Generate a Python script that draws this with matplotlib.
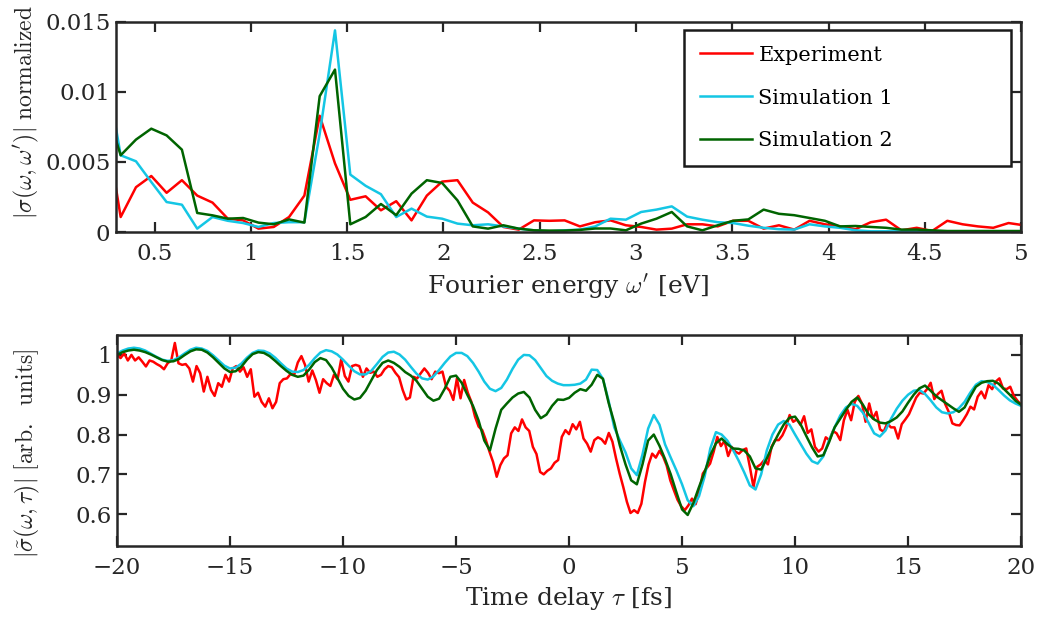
import numpy as np
import matplotlib
matplotlib.use('Agg')
import matplotlib.pyplot as plt

# ---- top panel: Fourier spectra (grid step ~0.0795 eV, first point just left of 0.3)
energy = 0.2445 + 0.0795 * np.arange(61)

spec_exp = [0.0078, 0.00107, 0.0032, 0.0040, 0.0028, 0.0037, 0.0026, 0.0021, 0.00095, 0.00083,
            0.00024, 0.00036, 0.00107, 0.0026, 0.0083, 0.0049, 0.0023, 0.00255, 0.00155, 0.0022,
            0.00083, 0.0026, 0.0036, 0.0037, 0.0021, 0.0014, 0.00036, 0.00017, 0.00083, 0.0008,
            0.00083, 0.0004, 0.0007, 0.00083, 0.00048, 0.00036, 0.00017, 0.00024, 0.00055, 0.00055,
            0.0004, 0.0008, 0.0008, 0.00024, 0.00048, 0.00017, 0.0008, 0.00055, 0.0004, 0.0002,
            0.0007, 0.00088, 0.00012, 0.0003, 0.00007, 0.0008, 0.00055, 0.0004, 0.0003, 0.00064,
            0.00048]
spec_sim1 = [0.0118, 0.00548, 0.00505, 0.00357, 0.00214, 0.00195, 0.00024, 0.00107, 0.0008, 0.00064,
             0.00036, 0.00064, 0.0007, 0.0007, 0.0070, 0.0144, 0.0041, 0.0033, 0.0027, 0.00107,
             0.00167, 0.0011, 0.00095, 0.0006, 0.00048, 0.00055, 0.0004, 0.00024, 0.00012, 0.00005,
             0.00012, 0.00017, 0.0004, 0.00095, 0.00088, 0.00143, 0.0016, 0.00183, 0.0011, 0.00088,
             0.0007, 0.00064, 0.00045, 0.0003, 0.0002, 0.00017, 0.00055, 0.0004, 0.0003, 0.00012,
             0.00005, 0.00005, 0.00005, 0.00005, 0.00005, 0.00005, 0.00005, 0.00005, 0.00005, 0.00005,
             0.00005]
spec_sim2 = [0.0090, 0.00548, 0.0066, 0.00738, 0.0069, 0.00588, 0.00136, 0.00119, 0.00095, 0.0010,
             0.00067, 0.00055, 0.0009, 0.00067, 0.0097, 0.0116, 0.00055, 0.00107, 0.0020, 0.0012,
             0.00274, 0.0037, 0.0035, 0.00226, 0.0004, 0.00024, 0.00048, 0.00024, 0.00012, 0.0001,
             0.0001, 0.00015, 0.00025, 0.00025, 0.00012, 0.0006, 0.00095, 0.00143, 0.0004, 0.00012,
             0.00048, 0.0008, 0.0009, 0.0016, 0.0013, 0.0012, 0.0010, 0.0008, 0.0004, 0.00043,
             0.00036, 0.0003, 0.00017, 0.00017, 0.00012, 0.00007, 0.00007, 0.00007, 0.00007, 0.00007,
             0.00007]

# ---- bottom panel: time traces
t_sim = np.linspace(-20, 20, 161)
trace_sim1 = [
    1.004, 1.011, 1.016, 1.018,  # -20
    1.016, 1.011, 1.003, 0.995,  # -19
    0.988, 0.985, 0.987, 0.994,  # -18
    1.004, 1.013, 1.018, 1.016,  # -17
    1.010, 0.999, 0.986, 0.973,  # -16
    0.966, 0.968, 0.978, 0.993,  # -15
    1.005, 1.011, 1.010, 1.004,  # -14
    0.993, 0.979, 0.966, 0.958,  # -13
    0.957, 0.962, 0.975, 0.992,  # -12
    1.006, 1.012, 1.009, 1.001,  # -11
    0.988, 0.973, 0.959, 0.951,  # -10
    0.951, 0.960, 0.977, 0.995,  # -9
    1.006, 1.008, 1.001, 0.988,  # -8
    0.970, 0.953, 0.941, 0.938,  # -7
    0.946, 0.962, 0.980, 0.996,  # -6
    1.005, 1.005, 0.997, 0.980,  # -5
    0.958, 0.933, 0.915, 0.909,  # -4
    0.917, 0.938, 0.965, 0.988,  # -3
    1.000, 0.999, 0.987, 0.967,  # -2
    0.947, 0.935, 0.928, 0.924,  # -1
    0.924, 0.925, 0.928, 0.938,  # 0
    0.963, 0.962, 0.940, 0.885,  # 1
    0.818, 0.785, 0.755, 0.715,  # 2
    0.698, 0.750, 0.815, 0.849,  # 3
    0.825, 0.775, 0.742, 0.710,  # 4
    0.675, 0.635, 0.620, 0.645,  # 5
    0.695, 0.765, 0.806, 0.800,  # 6
    0.785, 0.762, 0.735, 0.705,  # 7
    0.672, 0.662, 0.700, 0.760,  # 8
    0.800, 0.825, 0.834, 0.825,  # 9
    0.800, 0.776, 0.752, 0.733,  # 10
    0.727, 0.745, 0.785, 0.818,  # 11
    0.848, 0.868, 0.877, 0.872,  # 12
    0.855, 0.830, 0.803, 0.795,  # 13
    0.810, 0.840, 0.865, 0.885,  # 14
    0.900, 0.910, 0.912, 0.902,  # 15
    0.886, 0.868, 0.856, 0.853,  # 16
    0.856, 0.866, 0.882, 0.905,  # 17
    0.925, 0.934, 0.932, 0.925,  # 18
    0.912, 0.898, 0.886, 0.878,  # 19
    0.872]
trace_sim2 = [
    1.000, 1.007, 1.011, 1.013,  # -20
    1.011, 1.007, 1.001, 0.994,  # -19
    0.987, 0.983, 0.984, 0.990,  # -18
    1.000, 1.009, 1.014, 1.013,  # -17
    1.006, 0.994, 0.980, 0.966,  # -16
    0.957, 0.959, 0.970, 0.988,  # -15
    1.002, 1.007, 1.005, 0.997,  # -14
    0.985, 0.972, 0.960, 0.950,  # -13
    0.945, 0.948, 0.963, 0.982,  # -12
    0.992, 0.987, 0.968, 0.942,  # -11
    0.915, 0.897, 0.888, 0.892,  # -10
    0.910, 0.936, 0.962, 0.980,  # -9
    0.986, 0.980, 0.970, 0.957,  # -8
    0.948, 0.935, 0.915, 0.895,  # -7
    0.885, 0.890, 0.915, 0.945,  # -6
    0.948, 0.930, 0.900, 0.872,  # -5
    0.835, 0.785, 0.760, 0.815,  # -4
    0.862, 0.878, 0.893, 0.903,  # -3
    0.907, 0.893, 0.862, 0.841,  # -2
    0.850, 0.872, 0.888, 0.887,  # -1
    0.892, 0.905, 0.914, 0.910,  # 0
    0.925, 0.950, 0.940, 0.880,  # 1
    0.830, 0.772, 0.725, 0.685,  # 2
    0.675, 0.725, 0.785, 0.800,  # 3
    0.772, 0.738, 0.700, 0.655,  # 4
    0.612, 0.598, 0.628, 0.668,  # 5
    0.706, 0.748, 0.778, 0.790,  # 6
    0.776, 0.765, 0.764, 0.760,  # 7
    0.745, 0.715, 0.712, 0.740,  # 8
    0.772, 0.800, 0.825, 0.842,  # 9
    0.845, 0.825, 0.796, 0.768,  # 10
    0.745, 0.748, 0.780, 0.818,  # 11
    0.840, 0.862, 0.882, 0.893,  # 12
    0.875, 0.851, 0.838, 0.830,  # 13
    0.828, 0.834, 0.843, 0.858,  # 14
    0.880, 0.900, 0.916, 0.923,  # 15
    0.910, 0.896, 0.886, 0.876,  # 16
    0.866, 0.857, 0.868, 0.895,  # 17
    0.920, 0.930, 0.934, 0.935,  # 18
    0.928, 0.914, 0.900, 0.885,  # 19
    0.875]

t_exp = np.linspace(-20, 20, 251)
trace_exp = [
    1.000, 0.992, 1.004, 0.986, 1.000, 0.986, 0.994, 0.983, 0.971, 0.986,
    0.983, 0.977, 0.972, 0.964, 0.979, 0.986, 1.030, 0.979, 0.975, 0.977,
    0.966, 0.933, 0.972, 0.954, 0.908, 0.945, 0.912, 0.897, 0.929, 0.920,
    0.950, 0.933, 0.966, 0.972, 0.958, 0.969, 0.945, 0.964, 0.895, 0.905,
    0.882, 0.870, 0.891, 0.866, 0.882, 0.929, 0.939, 0.941, 0.952, 0.950,
    0.981, 0.997, 0.975, 0.933, 0.961, 0.937, 0.905, 0.939, 0.929, 0.922,
    0.950, 0.939, 0.989, 0.947, 0.933, 0.972, 0.975, 0.972, 0.945, 0.966,
    0.955, 0.958, 0.945, 0.950, 0.964, 0.972, 0.969, 0.955, 0.944, 0.912,
    0.888, 0.893, 0.945, 0.941, 0.954, 0.966, 0.955, 0.939, 0.958, 0.954,
    0.958, 0.920, 0.910, 0.887, 0.941, 0.891, 0.937, 0.905, 0.882, 0.845,
    0.820, 0.811, 0.786, 0.757, 0.731, 0.694, 0.723, 0.740, 0.748, 0.803,
    0.818, 0.809, 0.838, 0.818, 0.809, 0.769, 0.751, 0.706, 0.700, 0.709,
    0.715, 0.729, 0.736, 0.794, 0.811, 0.801, 0.826, 0.813, 0.832, 0.790,
    0.777, 0.757, 0.786, 0.793, 0.788, 0.777, 0.804, 0.782, 0.740, 0.702,
    0.668, 0.631, 0.603, 0.610, 0.603, 0.626, 0.681, 0.725, 0.752, 0.742,
    0.759, 0.745, 0.722, 0.685, 0.660, 0.636, 0.620, 0.610, 0.622, 0.639,
    0.625, 0.656, 0.702, 0.715, 0.727, 0.757, 0.794, 0.771, 0.784, 0.746,
    0.769, 0.757, 0.752, 0.761, 0.765, 0.719, 0.668, 0.719, 0.725, 0.736,
    0.725, 0.769, 0.786, 0.786, 0.798, 0.818, 0.849, 0.832, 0.838, 0.824,
    0.846, 0.804, 0.813, 0.769, 0.757, 0.765, 0.793, 0.786, 0.809, 0.803,
    0.786, 0.836, 0.862, 0.836, 0.882, 0.897, 0.878, 0.832, 0.878, 0.840,
    0.857, 0.813, 0.807, 0.828, 0.818, 0.818, 0.790, 0.826, 0.838, 0.851,
    0.872, 0.893, 0.905, 0.903, 0.914, 0.930, 0.889, 0.902, 0.910, 0.877,
    0.857, 0.828, 0.824, 0.823, 0.836, 0.851, 0.870, 0.863, 0.895, 0.908,
    0.891, 0.924, 0.914, 0.933, 0.941, 0.916, 0.914, 0.920, 0.897, 0.885,
    0.875]

labels = ['Experiment', 'Simulation 1', 'Simulation 2']
colors = ['#ff0000', '#14c6e4', '#006400']

top_xticks = [0.5, 1, 1.5, 2, 2.5, 3, 3.5, 4, 4.5, 5]
top_xlabels = ['0.5', '1', '1.5', '2', '2.5', '3', '3.5', '4', '4.5', '5']
top_yticks = [0, 0.005, 0.01, 0.015]
top_ylabels = ['0', '0.005', '0.01', '0.015']
bot_xticks = [-20, -15, -10, -5, 0, 5, 10, 15, 20]
bot_xlabels = ['\u221220', '\u221215', '\u221210', '\u22125', '0', '5', '10', '15', '20']
bot_yticks = [0.6, 0.7, 0.8, 0.9, 1.0]
bot_ylabels = ['0.6', '0.7', '0.8', '0.9', '1']

plt.rcParams['font.family'] = 'DejaVu Serif'
plt.rcParams['mathtext.fontset'] = 'cm'
axcol = '#262626'

fig = plt.figure(figsize=(10.38, 6.19), dpi=100)
ax1 = fig.add_axes([0.1118, 0.6252, 0.8719, 0.3393])
ax2 = fig.add_axes([0.1127, 0.1179, 0.8710, 0.3409])

lw = 1.8
for ys, c, lab in zip([spec_exp, spec_sim1, spec_sim2], colors, labels):
    ax1.plot(energy, ys, color=c, lw=lw, label=lab)
for ts, ys, c in zip([t_exp, t_sim, t_sim], [trace_exp, trace_sim1, trace_sim2], colors):
    ax2.plot(ts, ys, color=c, lw=lw)

ax1.set_xlim(0.3, 5)
ax1.set_ylim(0, 0.015)
ax1.set_xticks(top_xticks, top_xlabels)
ax1.set_yticks(top_yticks, top_ylabels)
ax1.set_xlabel(r"Fourier energy $\omega'$ [eV]", fontsize=18, color=axcol, labelpad=5)
ax1.set_ylabel(r"$|\sigma(\omega,\omega')|\ \mathrm{normalized}$", fontsize=17, color=axcol)

ax2.set_xlim(-20, 20)
ax2.set_ylim(0.52, 1.05)
ax2.set_xticks(bot_xticks, bot_xlabels)
ax2.set_yticks(bot_yticks, bot_ylabels)
ax2.set_xlabel(r"Time delay $\tau$ [fs]", fontsize=18, color=axcol, labelpad=4)
ax2.set_ylabel(r"$|\tilde{\sigma}(\omega,\tau)|\ \mathrm{[arb.\ \ units]}$", fontsize=17, color=axcol)

for ax in (ax1, ax2):
    for sp in ax.spines.values():
        sp.set_linewidth(1.8)
        sp.set_color(axcol)
    ax.tick_params(direction='in', length=7, width=1.6, color=axcol, labelcolor=axcol,
                   labelsize=16.5, top=True, right=True)
    ax.tick_params(axis='x', pad=8)
    ax.tick_params(axis='y', pad=4)
ax1.yaxis.set_label_coords(-0.083, 0.57)
ax2.yaxis.set_label_coords(-0.083, 0.44)

leg = ax1.legend(loc='upper left', bbox_to_anchor=(0.628, 0.314, 0.361, 0.648), mode='expand',
                 fontsize=15, fancybox=False, framealpha=1, edgecolor='#1a1a1a',
                 handlelength=2.5, labelspacing=1.15, borderpad=0.75, handletextpad=0.3,
                 borderaxespad=0)
leg.get_frame().set_linewidth(1.8)

fig.savefig('out.png', dpi=100)
